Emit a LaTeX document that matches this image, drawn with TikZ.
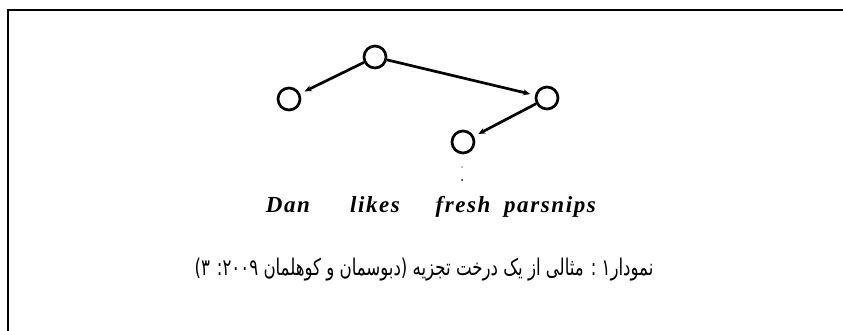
\documentclass[tikz,border=0pt]{standalone}
\usepackage{fontspec}
\setmainfont{Liberation Serif}
\newfontfamily\wordfont[LetterSpace=7]{Liberation Serif}
\newfontfamily\arabicfont[Script=Arabic]{DejaVu Sans}
\TeXXeTstate=1
\usetikzlibrary{arrows.meta}

\begin{document}
\begin{tikzpicture}[x=1pt,y=-1pt,
  vertex/.style={circle,draw,line width=2.7pt,minimum size=22pt,inner sep=0pt},
  edge/.style={line width=2.7pt,-{Stealth[length=7pt,width=6pt]},shorten >=5pt},
  word/.style={font=\wordfont\bfseries\itshape\fontsize{23}{25}\selectfont,anchor=base,inner sep=0pt}]
  \useasboundingbox (0,0) rectangle (843,331);

  % frame (top and left edges only)
  \draw[line width=2.6pt] (8,331) -- (8,10) -- (843,10);

  % tree vertices
  \node[vertex] (root)  at (375,57) {};
  \node[vertex] (dan)   at (289,99) {};
  \node[vertex] (pars)  at (547,98) {};
  \node[vertex] (fresh) at (463,142) {};

  % dependency arcs
  \draw[edge] (root) -- (dan);
  \draw[edge] (root) -- (pars);
  \draw[edge] (pars) -- (fresh);

  % faint marks below the lowest vertex
  \fill (462,167) circle (0.6pt);
  \fill (462,180) circle (1pt);

  % the sentence
  \node[word] (w1) at (288,212) {Dan};
  \node[word] (w2) at (375,212) {likes};
  \node[word] (w3) at (463,212) {fresh};
  \node[word] (w4) at (550,212) {parsnips};

  % caption
  \node[anchor=base,inner sep=0pt,xscale=0.83,yscale=1.15] (cap) at (424,275)
    {\arabicfont\fontsize{20}{24}\selectfont\beginR نمودار۱ : مثالی از یک درخت تجزیه (دبوسمان و کوهلمان ۲۰۰۹: ۳)\endR};
\end{tikzpicture}
\end{document}
